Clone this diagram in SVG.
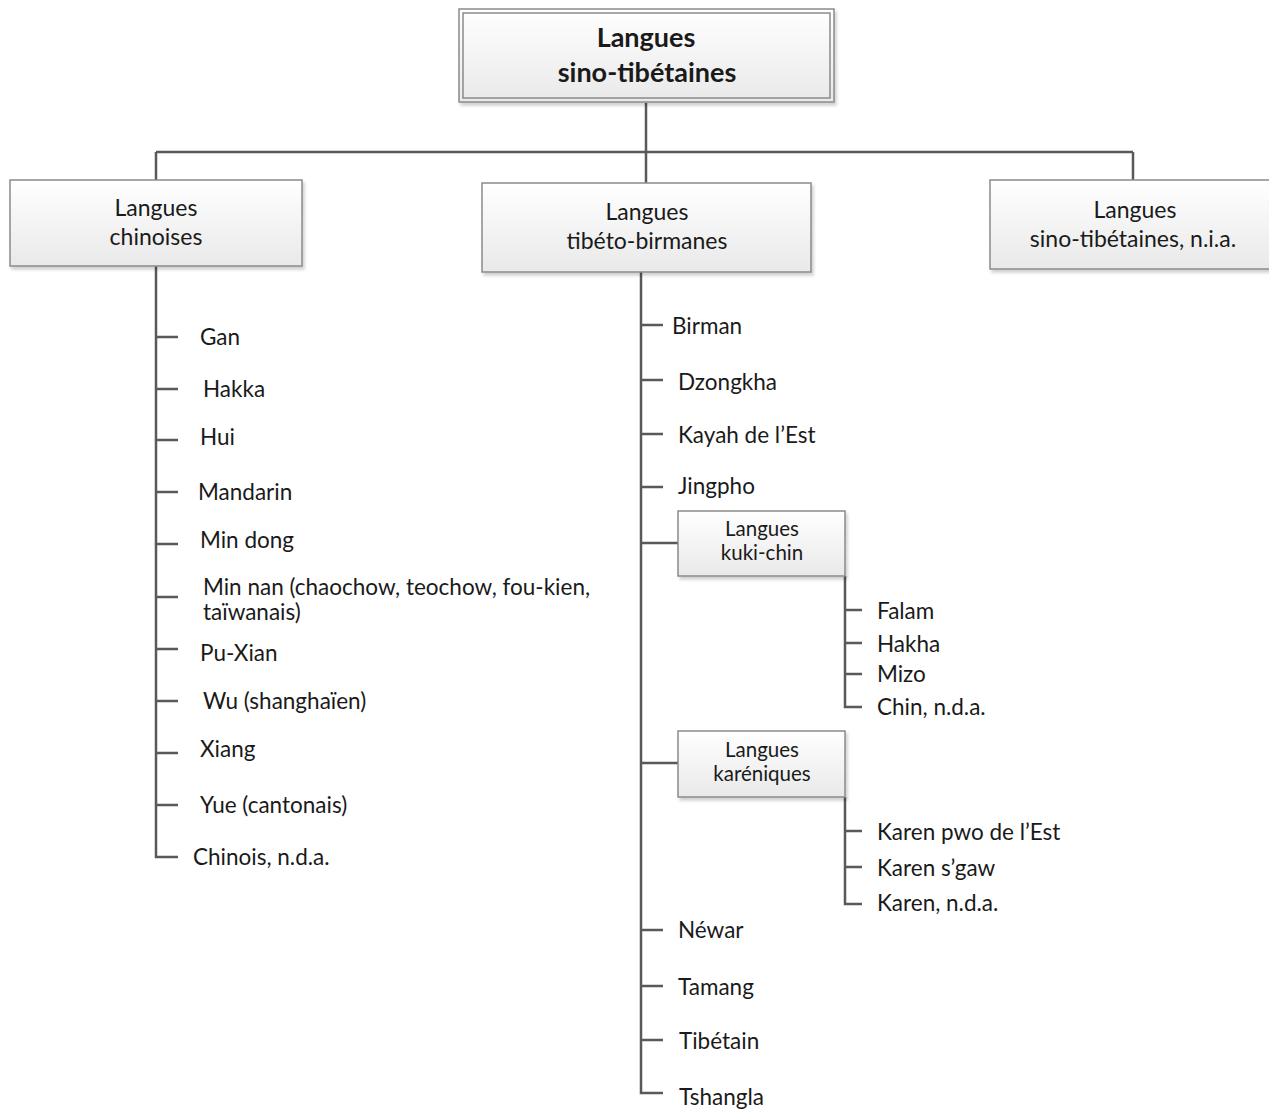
<svg xmlns="http://www.w3.org/2000/svg" width="1269" height="1113" viewBox="0 0 1269 1113">
<defs>
<linearGradient id="g" x1="0" y1="0" x2="0" y2="1"><stop offset="0" stop-color="#ffffff"/><stop offset="1" stop-color="#e9e9e9"/></linearGradient>
<filter id="sh" x="-5%" y="-5%" width="115%" height="120%"><feDropShadow dx="2" dy="3" stdDeviation="1.5" flood-color="#000" flood-opacity="0.18"/></filter>
<style>
.box{fill:url(#g);stroke:#8a8a8a;stroke-width:1.5}
.ln{fill:none;stroke:#595959;stroke-width:2.5}
text{font-family:Lato,"Open Sans","Liberation Sans",sans-serif;fill:#1a1a1a}
.t{font-size:22.5px}
.m{font-size:23px}
.s{font-size:20.5px}
.c{text-anchor:middle}
.b{font-weight:bold;font-size:27px}
</style>
</defs>
<rect width="1269" height="1113" fill="#fff"/>
<g id="connectors">
<path class="ln" d="M646 103V152M156 152H1133M156 152V180M646 152V183M1133 152V180"/>
<path class="ln" d="M156 266V857H178M156 337H178M156 389H178M156 440H178M156 492H178M156 544H178M156 597H178M156 649H178M156 701H178M156 753H178M156 805H178"/>
<path class="ln" d="M641 272V1093H663M641 325H663M641 380H663M641 434H663M641 487H663M641 543H678M641 763H678M641 930H663M641 986H663M641 1040H663"/>
<path class="ln" d="M845 576V707H862M845 610H862M845 643H862M845 674H862"/>
<path class="ln" d="M845 797V904H862M845 831H862M845 867H862"/>
</g>
<g id="root">
<rect x="459" y="9" width="375" height="93" fill="url(#g)" stroke="#8a8a8a" stroke-width="1.5" filter="url(#sh)"/>
<rect x="463" y="13" width="367" height="85" fill="none" stroke="#8a8a8a" stroke-width="1.5"/>
<text class="b c" x="646" y="47">Langues</text>
<text class="b c" x="647" y="82">sino-tibétaines</text>
</g>
<g id="chinoises">
<rect class="box" x="10" y="180" width="292" height="86" filter="url(#sh)"/>
<text class="m c" x="156" y="216">Langues</text>
<text class="m c" x="156" y="245">chinoises</text>
</g>
<g id="tibeto">
<rect class="box" x="482" y="183" width="329" height="89" filter="url(#sh)"/>
<text class="m c" x="647" y="220">Langues</text>
<text class="m c" x="647" y="249">tibéto-birmanes</text>
</g>
<g id="nia">
<rect class="box" x="990" y="180" width="290" height="89" filter="url(#sh)"/>
<text class="m c" x="1135" y="218">Langues</text>
<text class="m c" x="1133" y="247">sino-tibétaines, n.i.a.</text>
</g>
<g id="kuki">
<rect class="box" x="678" y="511" width="167" height="65" filter="url(#sh)"/>
<text class="s c" x="762" y="536">Langues</text>
<text class="s c" x="762" y="560">kuki-chin</text>
</g>
<g id="karen">
<rect class="box" x="678" y="731" width="167" height="66" filter="url(#sh)"/>
<text class="s c" x="762" y="757">Langues</text>
<text class="s c" x="762" y="781">karéniques</text>
</g>
<g id="chinese-list">
<text class="t" x="200" y="345">Gan</text>
<text class="t" x="203" y="397">Hakka</text>
<text class="t" x="200" y="445">Hui</text>
<text class="t" x="198" y="500">Mandarin</text>
<text class="t" x="200" y="548">Min dong</text>
<text class="t" x="203" y="595">Min nan (chaochow, teochow, fou-kien,</text>
<text class="t" x="203" y="620">taïwanais)</text>
<text class="t" x="200" y="661">Pu-Xian</text>
<text class="t" x="203" y="709">Wu (shanghaïen)</text>
<text class="t" x="200" y="757">Xiang</text>
<text class="t" x="200" y="813">Yue (cantonais)</text>
<text class="t" x="193" y="865">Chinois, n.d.a.</text>
</g>
<g id="tb-list">
<text class="t" x="672" y="334">Birman</text>
<text class="t" x="678" y="390">Dzongkha</text>
<text class="t" x="678" y="443">Kayah de l’Est</text>
<text class="t" x="678" y="494">Jingpho</text>
<text class="t" x="678" y="938">Néwar</text>
<text class="t" x="678" y="995">Tamang</text>
<text class="t" x="679" y="1049">Tibétain</text>
<text class="t" x="679" y="1105">Tshangla</text>
</g>
<g id="kuki-list">
<text class="t" x="877" y="619">Falam</text>
<text class="t" x="877" y="652">Hakha</text>
<text class="t" x="877" y="682">Mizo</text>
<text class="t" x="877" y="715">Chin, n.d.a.</text>
</g>
<g id="karen-list">
<text class="t" x="877" y="840">Karen pwo de l’Est</text>
<text class="t" x="877" y="876">Karen s’gaw</text>
<text class="t" x="877" y="911">Karen, n.d.a.</text>
</g>
</svg>
